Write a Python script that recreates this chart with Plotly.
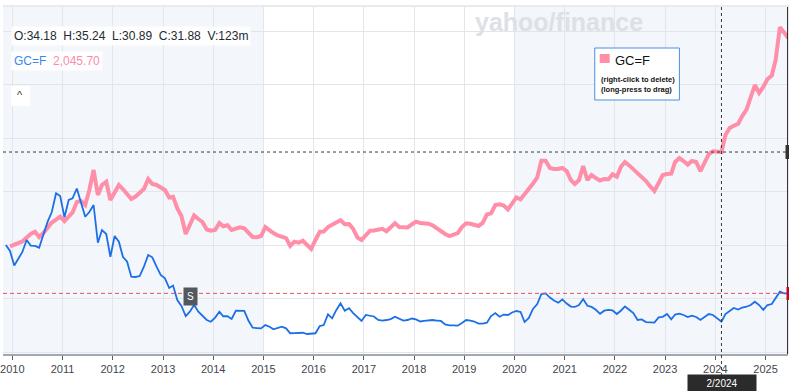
import pandas as pd
import plotly.graph_objects as go

# ---------------- data ----------------
tick_years = ["2010", "2011", "2012", "2013", "2014", "2015", "2016", "2017",
              "2018", "2019", "2020", "2021", "2022", "2023", "2024", "2025"]

gold_start = "2009-12"          # first monthly point of the GC=F line
stock_start = "2009-11"         # first monthly point of the main (blue) line

# GC=F, % change since start (monthly)
gold_pct = [
    -1.2,
    0.5, 1.9, 3.3, 7.0, 10.3, 12.4, 7.5, 11.2, 15.9, 21.0, 23.8, 26.6,           # 2010
    22.4, 27.1, 30.4, 40.2, 41.1, 37.4, 51.4, 70.1, 46.7, 56.1, 59.1, 42.1,      # 2011
    49.6, 56.1, 52.3, 47.7, 43.0, 45.3, 48.6, 52.3, 61.7, 57.0, 56.1, 53.8,      # 2012
    51.4, 44.4, 45.1, 34.1, 27.1, 10.3, 19.6, 27.6, 24.3, 21.5, 14.5, 13.4,      # 2013
    14.0, 20.6, 17.5, 18.5, 14.0, 15.0, 16.5, 15.6, 12.1, 7.5, 7.3, 8.4,         # 2014
    16.8, 13.6, 11.2, 8.9, 8.1, 6.5, -0.9, 3.1, 2.1, 4.0, 0.0, -3.7,             # 2015
    4.7, 12.4, 12.6, 16.8, 19.0, 20.6, 23.1, 19.4, 19.6, 15.0, 7.0, 4.7,         # 2016
    9.8, 13.4, 13.6, 14.7, 15.1, 12.8, 16.8, 20.3, 16.8, 16.6, 16.4, 19.2,       # 2017
    21.8, 20.6, 20.3, 19.9, 18.4, 15.4, 12.6, 10.3, 8.4, 9.8, 11.2, 16.8,        # 2018
    20.3, 19.8, 19.2, 17.8, 20.6, 28.5, 29.6, 37.4, 38.0, 36.9, 33.2, 39.3,      # 2019
    44.5, 42.7, 47.2, 52.3, 57.5, 63.1, 78.8, 78.8, 72.0, 71.0, 71.0, 72.0,      # 2020
    69.1, 60.7, 57.0, 60.7, 73.8, 60.7, 65.4, 62.6, 60.3, 61.7, 61.4, 66.0,      # 2021
    63.9, 73.3, 77.6, 74.4, 71.0, 66.4, 63.1, 59.8, 54.7, 50.5, 57.9, 65.4,      # 2022
    66.4, 66.7, 77.6, 81.3, 78.5, 75.2, 78.5, 77.6, 69.1, 76.5, 84.9, 87.5,      # 2023
    87.2, 86.9, 102.8, 109.3, 111.5, 113.1, 120.5, 126.6, 138.3, 149.5, 142.1, 147.7,  # 2024
    155.2, 158.4, 172.9, 203.5, 198.6, 193.5,                                    # 2025
]

# main symbol, % change since start (monthly)
stock_pct = [
    0.0, -5.6,
    -19.2, -13.1, -6.5, 4.7, -0.5, -0.9, -2.5, 9.8, 21.8, 30.8, 48.3, 45.8,      # 2010
    25.9, 42.1, 43.6, 52.8, 40.2, 26.4, 30.8, 37.4, 2.1, 14.0, 10.3, -11.0,      # 2011
    8.4, 3.1, -11.0, -15.6, -29.6, -29.9, -29.0, -20.3, -9.3, -11.5, -20.3, -28.0,  # 2012
    -31.1, -40.2, -37.9, -51.4, -57.0, -66.4, -62.3, -56.1, -62.3, -66.4, -70.1, -71.7,  # 2013
    -67.8, -62.3, -66.6, -66.6, -69.1, -61.4, -61.4, -61.5, -70.8, -77.3, -77.6, -77.9,  # 2014
    -74.8, -76.4, -78.8, -77.6, -76.4, -77.9, -82.5, -82.3, -82.0, -82.0, -83.2, -82.8,  # 2015
    -82.5, -75.7, -74.8, -64.8, -68.5, -60.7, -54.5, -61.4, -59.1, -63.6, -67.3, -71.0,  # 2016
    -65.4, -65.9, -66.8, -70.1, -70.6, -70.1, -69.2, -67.0, -68.7, -70.6, -70.1, -68.7,  # 2017
    -69.6, -71.5, -71.0, -70.6, -70.1, -70.6, -71.0, -74.3, -75.2, -75.2, -75.4, -72.9,  # 2018
    -70.1, -70.6, -71.5, -73.4, -73.4, -72.6, -66.4, -63.6, -67.0, -65.0, -65.4, -63.1,  # 2019
    -61.7, -62.6, -72.0, -68.2, -59.8, -55.2, -45.8, -45.2, -49.1, -51.9, -54.0, -50.8,  # 2020
    -54.7, -57.5, -57.9, -56.1, -50.5, -56.8, -57.9, -60.5, -64.3, -61.4, -60.7, -61.2,  # 2021
    -64.5, -61.2, -57.4, -60.5, -63.6, -70.1, -69.5, -72.0, -72.6, -72.6, -67.6, -67.1,  # 2022
    -64.5, -69.5, -65.0, -64.2, -65.4, -67.3, -66.0, -67.3, -70.1, -67.3, -64.5, -65.4,  # 2023
    -68.7, -71.7, -64.5, -61.7, -58.9, -60.3, -58.4, -57.7, -56.1, -53.0, -56.1, -60.7,  # 2024
    -56.1, -55.2, -49.5, -43.6, -45.2, -45.2,                                    # 2025
]

ohlc_text = "O:34.18\u00a0 H:35.24\u00a0 L:30.89\u00a0 C:31.88\u00a0 V:123m"
gold_symbol = "GC=F"
gold_value_text = "2,045.70"
crosshair_date = "2024-02-15"
crosshair_label = "2/2024"
split_marker_date = "2013-07-22"
split_marker_label = "S"

# ---------------- derived series ----------------
def monthly(start, n):
    return pd.date_range(start + "-01", periods=n, freq="MS") + pd.Timedelta(days=14)

gold_dates = monthly(gold_start, len(gold_pct))
stock_dates = monthly(stock_start, len(stock_pct))
crosshair_value = gold_pct[list(gold_dates.strftime("%Y-%m-%d")).index(crosshair_date)]
last_stock = stock_pct[-1]

# ---------------- figure ----------------
W, H = 789, 391
L, R, T, B = 0, 1, 7, 37
PW, PH = W - L - R, H - T - B

def px(x):
    return (x - L) / PW

def py(y):
    return (H - B - y) / PH

PINK = "#ff8fa9"
BLUE = "#1c6fe6"
FONT = "Liberation Sans"

fig = go.Figure()
fig.add_trace(go.Scatter(x=gold_dates, y=gold_pct, mode="lines",
                         line=dict(color=PINK, width=4), hoverinfo="skip"))
fig.add_trace(go.Scatter(x=stock_dates, y=stock_pct, mode="lines",
                         line=dict(color=BLUE, width=1.8), hoverinfo="skip"))
fig.add_trace(go.Scatter(x=[stock_dates[-1]], y=[last_stock], mode="markers",
                         marker=dict(color="#5fb6f3", size=7), hoverinfo="skip",
                         cliponaxis=False))

shapes = []
# shaded background bands
for x0, x1 in [("2009-01-01", "2015-01-01"), ("2020-01-01", "2026-01-01")]:
    shapes.append(dict(type="rect", xref="x", yref="paper", x0=x0, x1=x1, y0=0, y1=1,
                       fillcolor="#f3f6fa", line=dict(width=0), layer="below"))
# top border
shapes.append(dict(type="line", xref="paper", yref="paper", x0=0, x1=1.01, y0=1.003, y1=1.003,
                   line=dict(color="#e1e4e8", width=1.5)))
# right edge
shapes.append(dict(type="line", xref="paper", yref="paper", x0=0.9995, x1=0.9995, y0=0, y1=1,
                   line=dict(color="#1e1e1e", width=1)))
# current price line (red dashed)
shapes.append(dict(type="line", xref="paper", yref="y", x0=0, x1=1, y0=last_stock, y1=last_stock,
                   line=dict(color="#e8505f", width=1, dash="4px,3px")))
# crosshair
shapes.append(dict(type="line", xref="paper", yref="y", x0=0, x1=1,
                   y0=crosshair_value, y1=crosshair_value,
                   line=dict(color="#3a3a3a", width=1, dash="dot")))
shapes.append(dict(type="line", xref="x", yref="paper", x0=crosshair_date, x1=crosshair_date,
                   y0=py(376), y1=1, line=dict(color="#3a3a3a", width=1, dash="dot")))
# legend box
shapes.append(dict(type="rect", xref="paper", yref="paper", x0=px(594), x1=px(679),
                   y0=py(100), y1=py(48), fillcolor="white",
                   line=dict(color="#4a90e2", width=1)))
shapes.append(dict(type="rect", xref="paper", yref="paper", x0=px(599), x1=px(609),
                   y0=py(63), y1=py(54), fillcolor=PINK, line=dict(width=0)))
# right edge markers
shapes.append(dict(type="rect", xref="paper", yref="paper", x0=px(785.5), x1=px(790),
                   y0=py(159), y1=py(145), fillcolor="#333333", line=dict(width=0)))
shapes.append(dict(type="rect", xref="paper", yref="paper", x0=px(786.5), x1=px(790),
                   y0=py(300), y1=py(287), fillcolor="#d0021b", line=dict(width=0)))
# caret button box
shapes.append(dict(type="rect", xref="paper", yref="paper", x0=px(8), x1=px(27),
                   y0=py(106), y1=py(86), fillcolor="white", line=dict(width=0)))

def note(text, x, y, size, color="#111", xanchor="left", **kw):
    return dict(text=text, xref="paper", yref="paper", x=px(x), y=py(y),
                xanchor=xanchor, yanchor="middle", showarrow=False,
                font=dict(family=FONT, size=size, color=color), **kw)

annotations = [
    note("<b>yahoo/finance</b>", 558, 22, 25, "#dde0e5", xanchor="center"),
    note(ohlc_text, 8, 36, 12, "#232a31", bgcolor="rgba(255,255,255,0.9)", borderpad=2),
    note(f"<span style='color:#3d86ec'>{gold_symbol}</span>\u00a0 "
         f"<span style='color:#f78fab'>{gold_value_text}</span>",
         8, 61, 12, bgcolor="rgba(255,255,255,0.9)", borderpad=2),
    note("^", 17.5, 95, 11, "#333", xanchor="center"),
    note(gold_symbol, 612, 61, 13, "#111"),
    note("<b>(right-click to delete)</b>", 598, 79.5, 7.5, "#111"),
    note("<b>(long-press to drag)</b>", 598, 89.5, 7.5, "#111"),
    dict(text=split_marker_label, xref="x", yref="y", x=split_marker_date, y=-48.1,
         showarrow=False, font=dict(family=FONT, size=10, color="white"),
         bgcolor="#52585e", borderpad=3),
    note(crosshair_label, 722, 383, 10, "white", xanchor="center",
         bgcolor="#2b2b2b", width=66, height=14, borderpad=1),
]

y_top = (245 - T) * 50 / 53.5
y_bot = (245 - (H - B)) * 50 / 53.5

fig.update_layout(
    width=W, height=H,
    margin=dict(l=L, r=R, t=T, b=B),
    paper_bgcolor="white", plot_bgcolor="white",
    showlegend=False,
    hovermode=False,
    shapes=shapes,
    annotations=annotations,
    xaxis=dict(
        range=["2009-10-25", "2025-06-13"],
        tickvals=[f"{y}-01-01" for y in tick_years],
        ticktext=tick_years,
        tickfont=dict(family=FONT, size=11, color="#3f464d"),
        ticklabeloverflow="allow",
        ticks="outside", ticklen=4, tickcolor="#555b61",
        showline=True, linecolor="#a3a8ae", linewidth=2,
        showgrid=True, gridcolor="#e2e6eb", gridwidth=1,
        zeroline=False, fixedrange=True,
    ),
    yaxis=dict(
        range=[y_bot, y_top],
        tick0=0, dtick=50,
        showticklabels=False,
        showgrid=True, gridcolor="#e2e6eb", gridwidth=1,
        zeroline=False, fixedrange=True,
    ),
)

fig.write_html(
    "out.html",
    config={"displayModeBar": False},
    post_script="document.body.style.margin='0';document.body.style.overflow='hidden';",
)
